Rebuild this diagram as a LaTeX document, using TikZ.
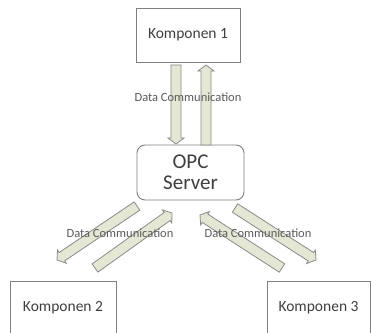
\documentclass[tikz,border=0pt]{standalone}
\usepackage{fontspec}
\setmainfont{Carlito}
\usetikzlibrary{calc}
\definecolor{arrfill}{HTML}{E4E7D3}
\definecolor{arrline}{HTML}{8A8A8A}
\definecolor{boxline}{HTML}{808080}
\definecolor{txt}{HTML}{3F3F3F}
\definecolor{lbl}{HTML}{5A5A5A}
\newcommand\blockarrow[2]{%
  \draw[blockarrowstyle]
    ($(#1)!5pt!90:(#2)$) --
    ($($(#2)!6pt!(#1)$)!5pt!-90:(#1)$) --
    ($($(#2)!6pt!(#1)$)!8pt!-90:(#1)$) --
    (#2) --
    ($($(#2)!6pt!(#1)$)!8pt!90:(#1)$) --
    ($($(#2)!6pt!(#1)$)!5pt!90:(#1)$) --
    ($(#1)!5pt!-90:(#2)$) -- cycle;}
\begin{document}
\begin{tikzpicture}[x=1pt,y=-1pt,
  boxstyle/.style={draw=boxline, line width=0.9pt, fill=white, text=txt, inner sep=0pt},
  blockarrowstyle/.style={draw=arrline, fill=arrfill, line width=0.8pt, line join=miter},
  lblstyle/.style={text=lbl, font=\fontsize{12.5}{14}\selectfont, inner sep=0pt}]
\useasboundingbox (0,0) rectangle (371,332);
\clip (0,0) rectangle (371,332);
\fill[white] (0,0) rectangle (371,332);
% boxes
\node[boxstyle, minimum width=104pt, minimum height=54pt, font=\fontsize{15.5}{18}\selectfont] (k1) at (188,35) {Komponen 1};
\node[boxstyle, rounded corners=8pt, minimum width=107pt, minimum height=55pt, align=center, font=\fontsize{21}{21}\selectfont] (opc) at (190.5,172.5) {OPC\\Server};
\node[boxstyle, minimum width=106pt, minimum height=54pt, font=\fontsize{15.5}{18}\selectfont] (k2) at (63,308) {Komponen 2};
\node[boxstyle, minimum width=103pt, minimum height=54pt, font=\fontsize{15.5}{18}\selectfont] (k3) at (318.5,308) {Komponen 3};
% arrow end points
\coordinate (a1s) at (176,65);  \coordinate (a1e) at (176,144);
\coordinate (a2s) at (206,145); \coordinate (a2e) at (206,65);
\coordinate (a3s) at (137,206); \coordinate (a3e) at (57,260);
\coordinate (a4s) at (95,268);  \coordinate (a4e) at (172,213);
\coordinate (a5s) at (282,268); \coordinate (a5e) at (200,215);
\coordinate (a6s) at (235,208); \coordinate (a6e) at (316,260);
\blockarrow{a1s}{a1e}
\blockarrow{a2s}{a2e}
\blockarrow{a3s}{a3e}
\blockarrow{a4s}{a4e}
\blockarrow{a5s}{a5e}
\blockarrow{a6s}{a6e}
% labels
\node[lblstyle] (l1) at (188,97) {Data Communication};
\node[lblstyle] (l2) at (120,233) {Data Communication};
\node[lblstyle] (l3) at (258,233) {Data Communication};
\end{tikzpicture}
\end{document}
